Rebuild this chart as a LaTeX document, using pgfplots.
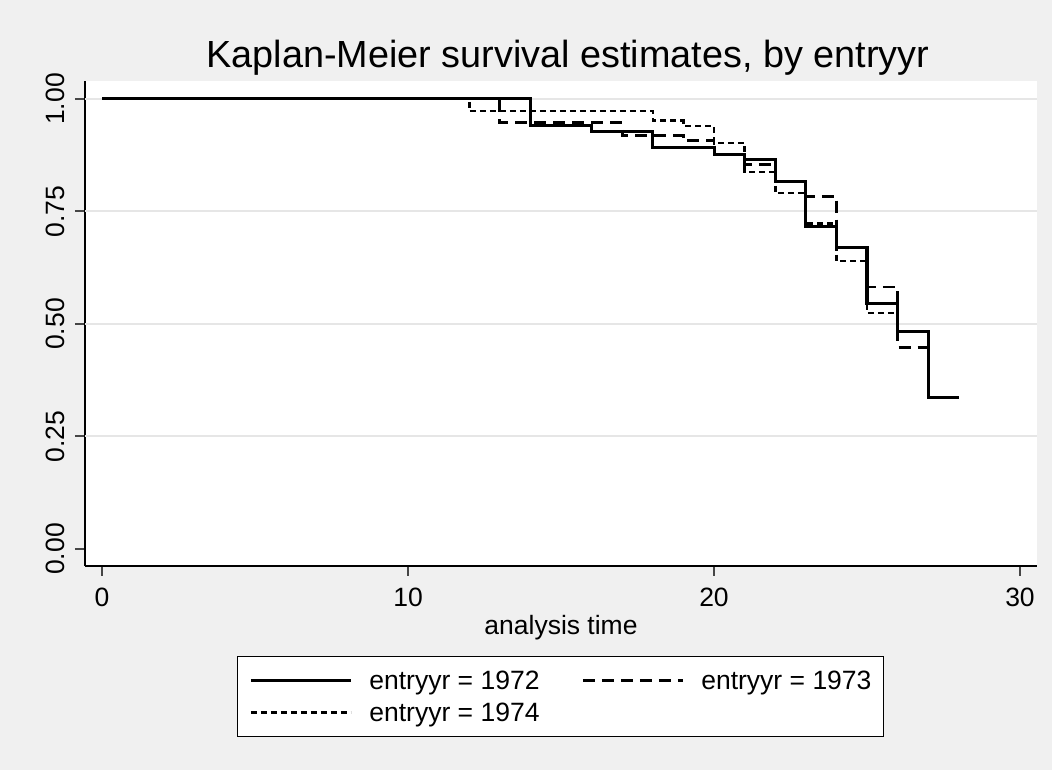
\documentclass[border=0pt]{standalone}
\usepackage{fontspec}
\setmainfont{Liberation Sans}
\usepackage{pgfplots}
\pgfplotsset{compat=1.18}
\definecolor{bgc}{RGB}{240,240,240}
\definecolor{gridc}{RGB}{230,230,230}
\definecolor{tickc}{RGB}{70,70,70}
\begin{document}
\begin{tikzpicture}
\fill[bgc] (0,0) rectangle (1052pt,770pt);
\node[font=\fontsize{37.8}{44}\selectfont, anchor=base] at (568pt,702pt) {Kaplan-Meier survival estimates, by entryyr};
\begin{axis}[
 at={(85pt,204pt)}, anchor=south west, scale only axis,
 width=952pt, height=485pt,
 xmin=-0.556, xmax=30.556, ymin=-0.0378, ymax=1.04,
 axis background/.style={fill=white},
 axis x line*=bottom, axis y line*=left,
 axis line style={black, line width=1.5pt, -},
 xtick={0,10,20,30}, ytick={0,0.25,0.5,0.75,1},
 tick align=outside, major tick length=10pt,
 tick style={tickc, line width=2pt},
 /pgf/number format/assume math mode=true,
 ticklabel style={font=\fontsize{26.5}{32}\selectfont},
 yticklabel={\pgfmathprintnumber[fixed,fixed zerofill,precision=2]{\tick}},
 yticklabel style={rotate=90, anchor=base},
 yticklabel shift=10pt,
 xticklabel shift=8pt,
 extra y ticks={0.25,0.5,0.75,1},
 extra y tick labels={},
 extra y tick style={grid=major, major tick length=0pt},
 grid style={gridc, line width=2pt},
 xlabel={analysis time},
 xlabel style={font=\fontsize{26.5}{32}\selectfont, at={(axis description cs:0.5,0)}, anchor=base, yshift=-69pt},
 legend columns=2,
 legend cell align=left,
 legend style={at={(0.4994,-0.1856)}, anchor=north, draw=black, line width=1pt, fill=white,
   font=\fontsize{26.5}{32}\selectfont, inner xsep=12pt, inner ysep=14pt,
   nodes={inner sep=0pt},
   /tikz/every odd column/.append style={column sep=17pt},
   /tikz/every even column/.append style={column sep=42pt}, row sep=12pt},
 legend image code/.code={\draw[#1] (0pt,0pt) -- (100pt,0pt);},
]
\addplot[black, line width=3pt, const plot] coordinates {
(0,1) (14,0.940) (16,0.927) (18,0.892) (20,0.877) (21,0.866) (22,0.816) (23,0.717) (24,0.670) (25,0.546) (26,0.484) (27,0.337) (28,0.337)};
\addlegendentry{entryyr = 1972}
\addplot[black, line width=2.8pt, const plot, dash pattern=on 12pt off 7pt] coordinates {
(0,1) (13,0.947) (17,0.918) (19,0.907) (20,0.877) (21,0.855) (22,0.816) (23,0.784) (24,0.670) (25,0.582) (26,0.448) (27,0.448)};
\addlegendentry{entryyr = 1973}
\addplot[black, line width=2.6pt, const plot, dash pattern=on 6pt off 4pt] coordinates {
(0,1) (12,0.973) (18,0.952) (19,0.940) (20,0.902) (21,0.838) (22,0.791) (23,0.723) (24,0.640) (25,0.524) (26,0.524)};
\addlegendentry{entryyr = 1974}
\end{axis}
\end{tikzpicture}
\end{document}
